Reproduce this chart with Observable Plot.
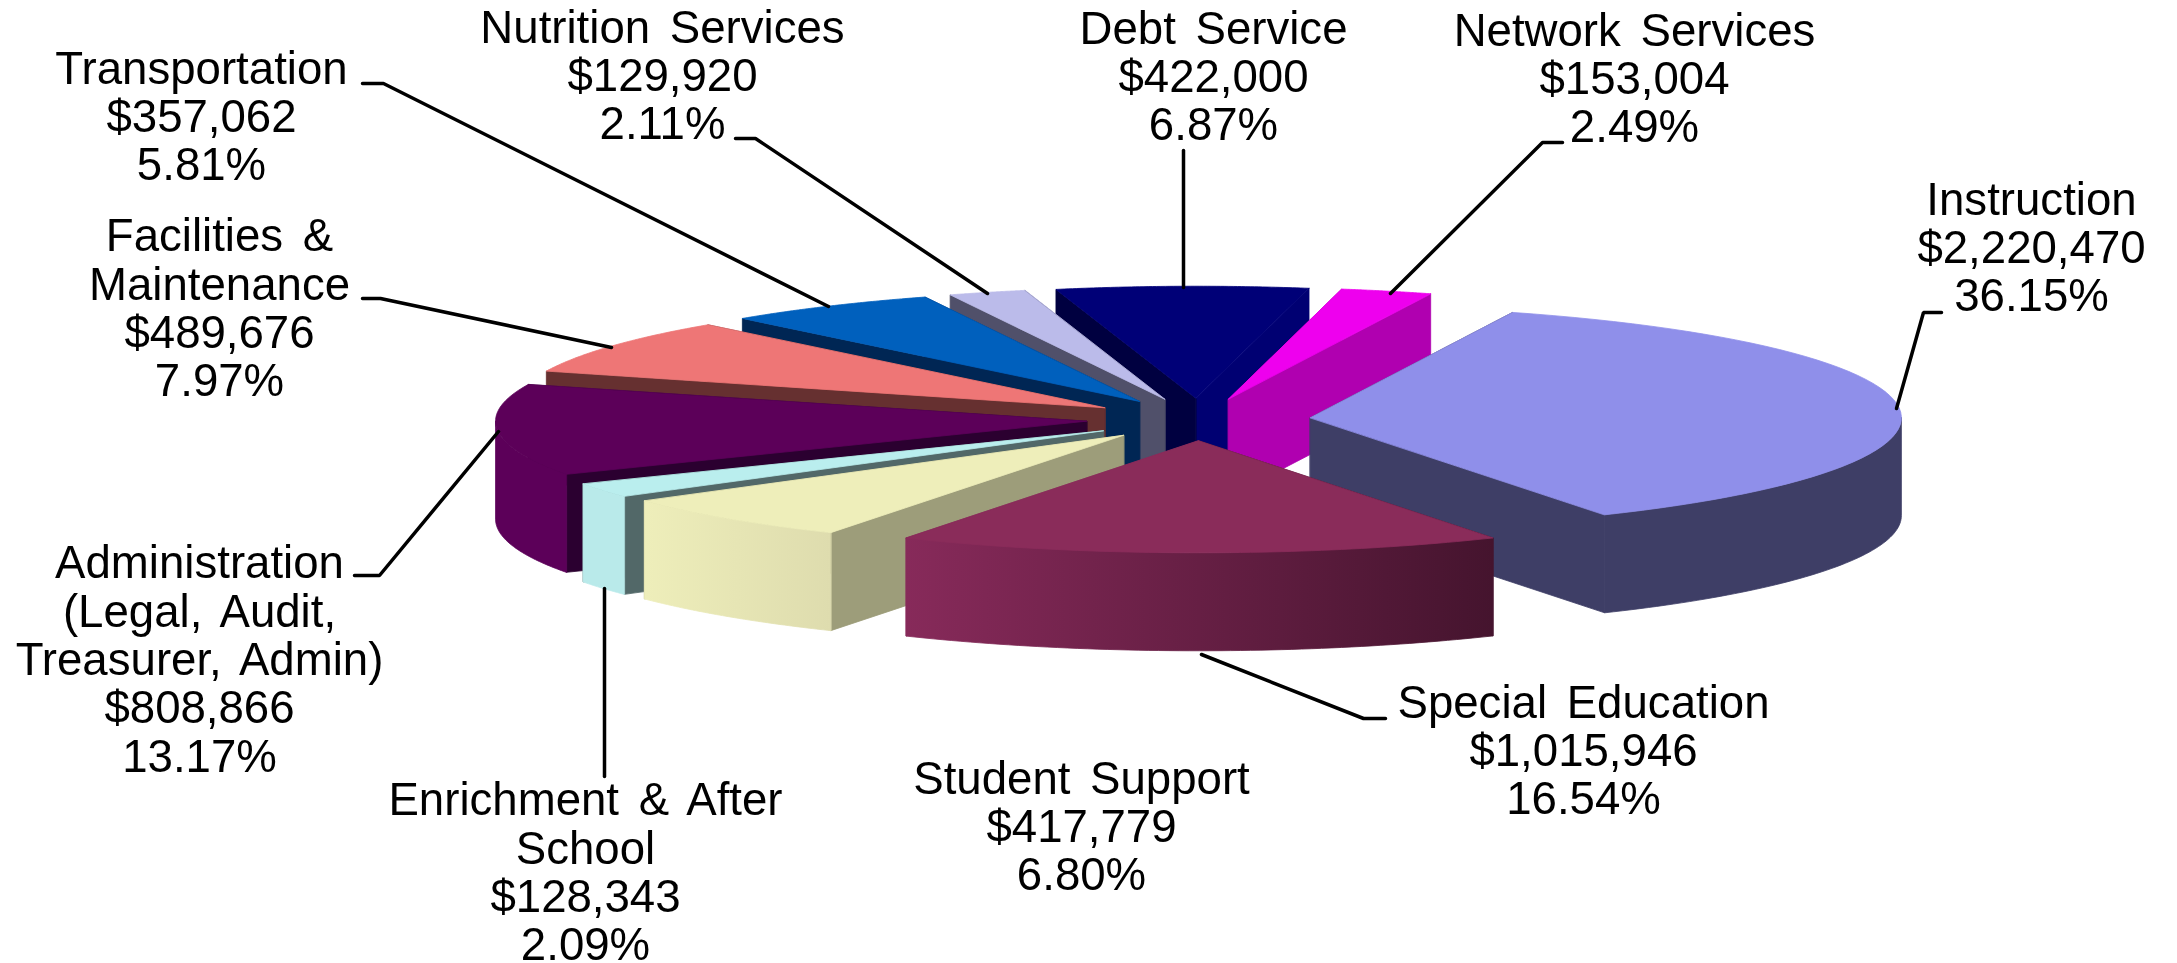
<!DOCTYPE html>
<html><head><meta charset="utf-8">
<style>html,body{margin:0;padding:0;background:#fff;overflow:hidden}svg{display:block;max-width:none;filter:blur(.5px)}</style>
<script src="https://cdn.jsdelivr.net/npm/d3@7"></script>
<script src="https://cdn.jsdelivr.net/npm/@observablehq/plot@0.6"></script>
</head><body><div id="chart"></div>
<script>
const names = ["Instruction","Special Education","Student Support","Enrichment & After\nSchool","Administration\n(Legal, Audit,\nTreasurer, Admin)","Facilities &\nMaintenance","Transportation","Nutrition Services","Debt Service","Network Services"];
const amounts = [2220470,1015946,417779,128343,808866,489676,357062,129920,422000,153004];
const percents = [36.15,16.54,6.80,2.09,13.17,7.97,5.81,2.11,6.87,2.49];
const topColors = ["#8f8fea","#8a2c5a","#eeeeba","#baeeee","#5c0059","#ee7676","#0060bd","#bbbbea","#000077","#ee00ee"];
const outerFrom = ["#3e3e66","#872a5a","#eeeeba","#b9eaea","#5c0059","#663030","#002654","#50506a","#000040","#b000b0"];
const outerTo   = ["#3e3e66","#45142e","#dedcae","#b9eaea","#5c0059","#663030","#002654","#50506a","#000075","#b000b0"];
const startWall = ["#3e3e66","#45142e","#9d9d7a","#526868","#2b0030","#663030","#002654","#50506a","#000040","#b000b0"];
const endWall   = ["#3e3e66","#872a5a","#9d9d7a","#526868","#2b0030","#663030","#002654","#50506a","#000072","#b000b0"];
const labelX = [2031,1583,1081,585,199,219,201,662,1213,1634];
const labelY = [247,750,826,872,659,308,116,75,76,78];
const leaders = [
  [[1896,408],[1923,312],[1941,312]],
  [[1201,654],[1363,718],[1385,718]],
  [],
  [[604,588],[604,776]],
  [[498,431],[379,575],[354,575]],
  [[611,347],[380,298],[362,298]],
  [[828,306],[383,83],[362,83]],
  [[987,293],[755,138],[735,138]],
  [[1183,287],[1183,150]],
  [[1390,293],[1542,142],[1562,142]]
];
const firstAngle = 20, cx = 1198, cy = 419, rx = 591, ry = 112, depth = 98, explode = 0.19;

const rad = d => d * Math.PI / 180;
const total = d3.sum(percents);
let acc = firstAngle;
const slices = percents.map((p, i) => {
  const a0 = acc, a1 = acc + p / total * 360; acc = a1;
  const m = (a0 + a1) / 2;
  const ax = cx + explode * rx * Math.sin(rad(m)), ay = cy - explode * ry * Math.cos(rad(m));
  const pt = a => [ax + rx * Math.sin(rad(a)), ay - ry * Math.cos(rad(a))];
  return {i, a0, a1, ax, ay, pt};
});
const polys = [];
const add = (pts, c) => { const id = polys.length ? polys[polys.length-1].id + 1 : 0; pts.forEach(p => polys.push({id, x: p[0], y: p[1], c})); };
const down = p => [p[0], p[1] + depth];
slices.slice().sort((a, b) => a.ay - b.ay).forEach(s => {
  const A = [s.ax, s.ay], P0 = s.pt(s.a0), P1 = s.pt(s.a1);
  const w0 = () => add([A, P0, down(P0), down(A)], startWall[s.i]);
  const w1 = () => add([A, P1, down(P1), down(A)], endWall[s.i]);
  if (P0[1] < P1[1]) { w0(); w1(); } else { w1(); w0(); }
  // curved outer wall, front-facing part only, shaded by a left-to-right gradient
  const lo = Math.max(s.a0, 90), hi = Math.min(s.a1, 270);
  if (hi > lo) {
    const arc = d3.range(0, 61).map(k => s.pt(lo + (hi - lo) * k / 60));
    add([...arc, ...arc.slice().reverse().map(down)], `url(#wall${s.i})`);
  }
  const arc = d3.range(0, 61).map(k => s.pt(s.a0 + (s.a1 - s.a0) * k / 60));
  add([A, ...arc], topColors[s.i]);
});

const labels = names.map((n, i) => ({
  x: labelX[i], y: labelY[i],
  text: `${n}\n${d3.format("$,")(amounts[i])}\n${percents[i].toFixed(2)}%`
}));
const leaderRows = leaders.flatMap((l, i) => l.map(p => ({i, x: p[0], y: p[1]})));

const gradients = () => {
  const g = d3.create("svg:defs");
  outerFrom.forEach((c, i) => {
    const lg = g.append("linearGradient").attr("id", `wall${i}`).attr("x1", 0).attr("x2", 1).attr("y1", 0).attr("y2", 0);
    lg.append("stop").attr("offset", 0).attr("stop-color", c);
    lg.append("stop").attr("offset", 1).attr("stop-color", outerTo[i]);
  });
  return g.node();
};

const chart = Plot.plot({
  width: 2177, height: 963,
  margin: 0,
  style: {wordSpacing: "7px"},
  x: {domain: [0, 2177], range: [0, 2177], axis: null},
  y: {domain: [0, 963], range: [0, 963], axis: null},
  color: {type: "identity"},
  marks: [
    gradients,
    Plot.line(polys, {x: "x", y: "y", z: "id", fill: "c", stroke: "c", strokeWidth: 0.8, curve: "linear-closed"}),
    Plot.line(leaderRows, {x: "x", y: "y", z: "i", stroke: "#000", strokeWidth: 3.5, strokeLinejoin: "miter"}),
    Plot.text(labels, {x: "x", y: "y", text: "text", fontSize: 45.6, lineHeight: 1.06, fill: "#000", textAnchor: "middle", lineAnchor: "middle", fontFamily: "Liberation Sans"})
  ]
});
document.getElementById("chart").append(chart);
</script></body></html>
